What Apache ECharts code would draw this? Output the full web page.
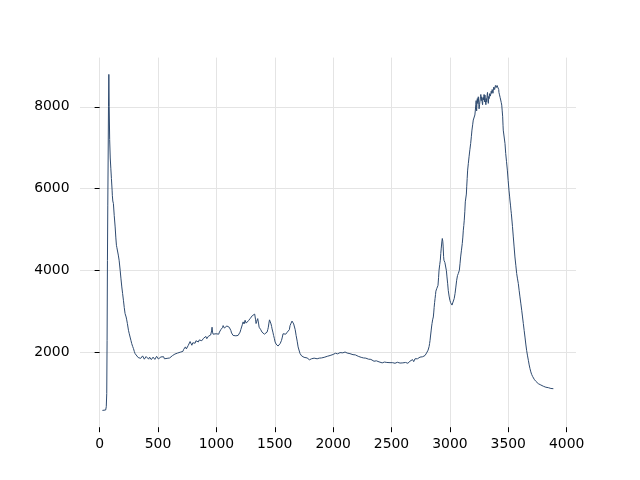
<!DOCTYPE html>
<html>
<head>
<meta charset="utf-8">
<script src="https://cdn.jsdelivr.net/npm/echarts@6/dist/echarts.min.js"></script>
<style>html,body{margin:0;padding:0;background:#fff}#c{width:640px;height:480px}</style>
</head>
<body>
<div id="c"></div>
<script>
const xTicks = [0, 500, 1000, 1500, 2000, 2500, 3000, 3500, 4000];
const yTicks = [2000, 4000, 6000, 8000];

const wavenumber = [
  24, 40, 52, 57, 61, 64, 67, 70, 73, 76, 79, 82, 86, 91, 96, 101, 107, 109, 113, 118, 125, 133, 139, 144, 148, 152, 160, 167, 176, 183, 190, 197, 204, 211, 218, 227, 232, 238, 247, 254, 261, 268, 275, 283, 290, 297, 304, 318,
  330, 338, 345, 352, 360, 368, 375, 383, 390, 398, 405, 413, 420, 428, 435, 443, 450, 458, 465, 473, 480, 488, 495, 503, 510, 518, 525, 533, 540, 548, 555, 563, 570, 578, 585, 593, 600, 608, 615, 623, 630, 638, 645, 653, 660, 668, 675, 683, 690, 698, 705, 713, 720, 728, 735, 743, 750, 758, 765, 770, 775, 783, 790, 798, 805, 812, 818, 825, 832, 839, 846, 853, 860, 868, 875, 883, 890, 897, 903, 910, 918, 925, 932, 939, 946, 951, 955, 959, 963, 967, 972, 980, 989, 997,
  1005, 1012, 1020, 1026, 1032, 1038, 1045, 1052, 1058, 1063, 1068, 1074, 1079, 1085, 1090, 1095, 1100, 1105, 1110, 1117, 1124, 1130, 1137, 1143, 1151, 1160, 1167, 1175, 1180, 1186, 1195, 1203, 1209, 1215, 1222, 1229, 1237, 1246, 1251, 1255, 1259, 1263, 1269, 1275, 1282, 1289, 1295, 1300, 1307, 1314, 1319, 1324, 1328, 1331, 1336, 1340, 1345, 1350, 1354, 1357, 1362, 1366, 1373, 1380, 1386, 1391, 1398, 1405, 1411, 1417, 1425, 1434, 1440, 1445, 1450, 1455, 1460, 1464, 1468, 1473, 1477, 1484, 1490, 1497,
  1503, 1511, 1520, 1528, 1535, 1541, 1546, 1552, 1558, 1565, 1571, 1576, 1580, 1584, 1588, 1594, 1600, 1607, 1614, 1620, 1625, 1631, 1636, 1640, 1644, 1648, 1653, 1657, 1662, 1666, 1675, 1683, 1692, 1700, 1710, 1717, 1723, 1730, 1737, 1743, 1751, 1760, 1768, 1777, 1784, 1790, 1797, 1803, 1809, 1815, 1822, 1829, 1837, 1845, 1854, 1863, 1869, 1875, 1881, 1888, 1894, 1900, 1907, 1915, 1923, 1931, 1940, 1950, 1962, 1974, 1982, 1990,
  2000, 2010, 2020, 2030, 2038, 2045, 2052, 2059, 2067, 2075, 2083, 2090, 2096, 2102, 2111, 2120, 2132, 2144, 2152, 2160, 2170, 2180, 2190, 2200, 2207, 2215, 2222, 2230, 2240, 2250, 2260, 2270, 2280, 2290, 2303, 2316, 2323, 2330, 2340, 2350, 2360, 2370, 2377, 2385, 2393, 2401, 2410, 2420, 2430, 2440, 2450, 2460, 2473, 2487,
  2493, 2500, 2510, 2520, 2530, 2540, 2550, 2560, 2566, 2573, 2581, 2590, 2597, 2605, 2612, 2620, 2630, 2640, 2649, 2658, 2664, 2670, 2675, 2680, 2685, 2690, 2695, 2701, 2708, 2715, 2722, 2730, 2737, 2744, 2752, 2760, 2767, 2775, 2781, 2787, 2794, 2800, 2807, 2813, 2818, 2822, 2826, 2830, 2835, 2840, 2844, 2847, 2852, 2858, 2862, 2865, 2869, 2873, 2877, 2880, 2884, 2887, 2893, 2898, 2903, 2907, 2913, 2918, 2922, 2926, 2931, 2935, 2939, 2942, 2946, 2949, 2953, 2957, 2961, 2964, 2970, 2975, 2981, 2986, 2993,
  3000, 3006, 3012, 3018, 3024, 3029, 3037, 3044, 3051, 3058, 3065, 3072, 3077, 3081, 3087, 3092, 3099, 3106, 3111, 3115, 3119, 3123, 3128, 3132, 3135, 3138, 3141, 3144, 3148, 3152, 3158, 3164, 3171, 3178, 3184, 3189, 3195, 3200, 3205, 3209, 3214, 3218, 3222, 3225, 3227, 3229, 3232, 3235, 3239, 3243, 3247, 3250, 3254, 3258, 3262, 3265, 3269, 3272, 3276, 3280, 3283, 3286, 3290, 3293, 3297, 3300, 3304, 3308, 3312, 3315, 3319, 3322, 3326, 3329, 3333, 3336, 3340, 3343, 3347, 3350, 3354, 3358, 3362, 3365, 3369, 3372, 3376, 3380, 3383, 3386, 3390, 3393, 3397, 3400, 3404, 3408, 3412, 3415, 3418, 3420, 3423, 3425, 3430, 3435, 3440, 3444, 3448, 3452, 3455, 3457, 3461, 3466, 3472, 3478, 3485, 3492, 3499,
  3506, 3511, 3515, 3519, 3523, 3526, 3529, 3536, 3543, 3550, 3557, 3565, 3572, 3579, 3586, 3593, 3600, 3608, 3615, 3622, 3629, 3636, 3643, 3650, 3657, 3665, 3672, 3679, 3686, 3693, 3700, 3708, 3715, 3722, 3729, 3736, 3743, 3750, 3757, 3764, 3771, 3779, 3786, 3793, 3800, 3807, 3814, 3822, 3829, 3836, 3843, 3851, 3858, 3865, 3872, 3879, 3886
];

const intensity = [
  590, 590, 600, 680, 1000, 2300, 4250, 5600, 6700, 8000, 8790, 8000, 7200, 6750, 6500, 6250, 5965, 5840, 5700, 5640, 5350, 5068, 4800, 4620, 4560, 4540, 4380, 4255, 4010, 3800, 3603, 3440, 3278, 3100, 2953, 2870, 2800, 2708, 2545, 2460, 2380, 2300, 2220, 2150, 2098, 2030, 1975, 1934,
  1880, 1915, 1900, 1860, 1875, 1920, 1885, 1840, 1870, 1905, 1860, 1880, 1840, 1890, 1860, 1830, 1855, 1890, 1870, 1835, 1880, 1910, 1870, 1845, 1875, 1860, 1895, 1855, 1880, 1900, 1850, 1875, 1890, 1860, 1900, 1880, 1870, 1910, 1890, 1925, 1945, 1920, 1965, 1940, 1960, 1990, 2000, 1975, 2010, 2040, 2050, 2030, 2080, 2110, 2140, 2090, 2110, 2170, 2200, 2150, 2270, 2230, 2180, 2240, 2250, 2210, 2230, 2290, 2300, 2250, 2260, 2310, 2320, 2280, 2290, 2330, 2350, 2310, 2370, 2395, 2340, 2360, 2400, 2360, 2380, 2430, 2420, 2530, 2620, 2500, 2450, 2410, 2420, 2460,
  2470, 2430, 2450, 2500, 2530, 2560, 2570, 2610, 2660, 2620, 2600, 2560, 2590, 2630, 2650, 2690, 2670, 2640, 2620, 2590, 2540, 2480, 2450, 2420, 2390, 2380, 2410, 2400, 2440, 2420, 2460, 2500, 2560, 2600, 2680, 2750, 2700, 2790, 2750, 2720, 2680, 2710, 2760, 2780, 2820, 2830, 2790, 2870, 2900, 2910, 2860, 2880, 2940, 2910, 2800, 2710, 2760, 2800, 2830, 2870, 2700, 2620, 2580, 2560, 2530, 2500, 2490, 2470, 2450, 2460, 2480, 2500, 2560, 2620, 2720, 2800, 2830, 2760, 2700, 2640, 2580, 2500, 2420, 2340,
  2260, 2210, 2180, 2160, 2170, 2200, 2220, 2260, 2300, 2380, 2460, 2430, 2440, 2470, 2490, 2450, 2460, 2500, 2500, 2540, 2560, 2660, 2690, 2720, 2750, 2770, 2760, 2740, 2700, 2670, 2560, 2420, 2280, 2140, 2040, 1975, 1940, 1920, 1905, 1890, 1885, 1880, 1860, 1870, 1850, 1840, 1825, 1810, 1835, 1850, 1830, 1850, 1865, 1870, 1845, 1850, 1870, 1880, 1865, 1880, 1890, 1870, 1890, 1900, 1885, 1895, 1915, 1910, 1920, 1930, 1945, 1950,
  1955, 1960, 1985, 1990, 1970, 1970, 2000, 2000, 2025, 2020, 1995, 1990, 2020, 2015, 1995, 1990, 1985, 1975, 1965, 1960, 1950, 1940, 1945, 1930, 1915, 1910, 1895, 1890, 1885, 1880, 1870, 1860, 1865, 1850, 1840, 1830, 1835, 1820, 1800, 1790, 1805, 1800, 1785, 1780, 1775, 1770, 1760, 1750, 1765, 1770, 1755, 1760, 1745, 1755,
  1750, 1740, 1755, 1760, 1740, 1750, 1765, 1760, 1740, 1745, 1755, 1770, 1750, 1740, 1760, 1760, 1745, 1740, 1765, 1790, 1760, 1760, 1790, 1830, 1790, 1780, 1820, 1850, 1840, 1870, 1850, 1860, 1890, 1890, 1870, 1880, 1900, 1910, 1895, 1930, 1950, 1990, 2020, 2060, 2100, 2150, 2220, 2300, 2430, 2550, 2650, 2710, 2800, 2870, 2990, 3100, 3220, 3320, 3420, 3500, 3540, 3560, 3600, 3640, 3830, 4010, 4150, 4255, 4420, 4550, 4700, 4785, 4720, 4600, 4350, 4255, 4230, 4200, 4190, 4174, 4000, 3847, 3680, 3520, 3380,
  3278, 3220, 3180, 3160, 3155, 3197, 3320, 3440, 3600, 3766, 3880, 3930, 3960, 4010, 4180, 4335, 4500, 4663, 4820, 4988, 5100, 5232, 5450, 5680, 5640, 5680, 5870, 6046, 6250, 6454, 6620, 6779, 6950, 7106, 7280, 7431, 7560, 7675, 7700, 7650, 7800, 7920, 8050, 8150, 7980, 7900, 8120, 8200, 8080, 8244, 8100, 7950, 8050, 8083, 8250, 8300, 8150, 8244, 8120, 8050, 8220, 8165, 8250, 8300, 8120, 8286, 8150, 8050, 8200, 8122, 8280, 8350, 8200, 8083, 8250, 8200, 8320, 8367, 8260, 8280, 8380, 8327, 8420, 8400, 8330, 8408, 8480, 8500, 8420, 8450, 8520, 8550, 8470, 8450, 8520, 8560, 8480, 8530, 8420, 8350, 8310, 8290, 8230, 8165, 8100, 8040, 7900, 7755, 7550, 7430, 7440, 7390, 7100, 6860, 6660, 6454, 6200,
  5965, 5820, 5700, 5600, 5476, 5400, 5354, 5080, 4824, 4580, 4335, 4120, 3930, 3800, 3686, 3520, 3360, 3190, 3034, 2870, 2708, 2540, 2380, 2210, 2056, 1920, 1812, 1700, 1609, 1530, 1470, 1420, 1380, 1350, 1323, 1300, 1280, 1260, 1243, 1232, 1220, 1210, 1200, 1190, 1180, 1170, 1160, 1155, 1150, 1148, 1145, 1138, 1130, 1125, 1120, 1122, 1120
];

const points = wavenumber.map((x, i) => [x, intensity[i]]);

const chart = echarts.init(document.getElementById('c'), null, { renderer: 'canvas' });
const font = 'DejaVu Sans';
chart.setOption({
  animation: false,
  backgroundColor: '#ffffff',
  grid: { left: 80, top: 57.6, width: 496, height: 369.6, containLabel: false },
  xAxis: {
    type: 'value', min: -168, max: 4080,
    axisLine: { show: false },
    axisTick: { show: true, length: 5, lineStyle: { color: '#000', width: 1 }, customValues: xTicks },
    axisLabel: { customValues: xTicks, margin: 10, color: '#000', fontFamily: font, fontSize: 13.9, formatter: v => String(v) },
    splitLine: { show: true, lineStyle: { color: '#e4e4e4', width: 1 } }
  },
  yAxis: {
    type: 'value', min: 180, max: 9200,
    axisLine: { show: false },
    axisTick: { show: true, length: 5, lineStyle: { color: '#000', width: 1 }, customValues: yTicks },
    axisLabel: { customValues: yTicks, margin: 10.5, color: '#000', fontFamily: font, fontSize: 13.9, formatter: v => String(v) },
    splitLine: { show: true, lineStyle: { color: '#e4e4e4', width: 1 } }
  },
  series: [{
    type: 'line',
    data: points,
    showSymbol: false,
    symbol: 'none',
    lineStyle: { color: '#2f4b70', width: 1 },
    itemStyle: { color: '#2f4b70' }
  }]
});
</script>
</body>
</html>
